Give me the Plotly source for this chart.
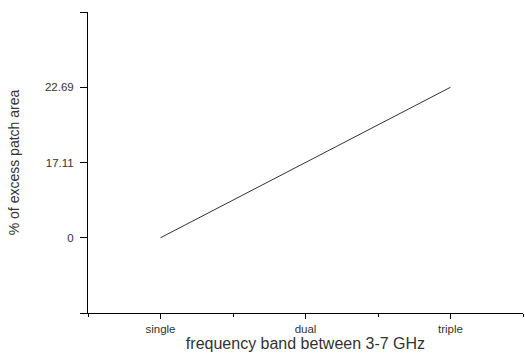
import plotly.graph_objects as go

categories = ["single", "dual", "triple"]
excess_area = [0, 17.11, 22.69]
y_tick_labels = ["0", "17.11", "22.69"]

x_pos = list(range(len(categories)))
y_cats = [" "] + y_tick_labels + ["  "]

fig = go.Figure()
fig.add_trace(go.Scatter(
    x=x_pos,
    y=[str(v) for v in excess_area],
    mode="lines",
    line=dict(color="#333333", width=1),
    showlegend=False,
))

fig.update_layout(
    width=525, height=356,
    margin=dict(l=88, r=2, t=12, b=43),
    paper_bgcolor="white", plot_bgcolor="white",
    font=dict(family="Liberation Sans, Arial, sans-serif", color="#333333"),
    xaxis=dict(
        range=[-0.5, 2.5],
        tickvals=x_pos, ticktext=categories,
        showgrid=False, zeroline=False,
        showline=True, linecolor="black", linewidth=1,
        ticks="outside", ticklen=5, tickcolor="black",
        minor=dict(tick0=-0.5, dtick=1, ticks="outside", ticklen=3, tickcolor="black", showgrid=False),
        tickfont=dict(size=11.5, color="#333333"),
        title=dict(text="frequency band between 3-7 GHz", font=dict(size=16, color="#333333"), standoff=4),
    ),
    yaxis=dict(
        type="category",
        categoryorder="array", categoryarray=y_cats,
        range=[0, len(y_cats) - 1],
        showgrid=False, zeroline=False,
        showline=True, linecolor="black", linewidth=1,
        ticks="outside", ticklen=7, tickcolor="black",
        ticklabelstandoff=4,
        tickfont=dict(size=11.5, color="#333333"),
        title=dict(text="% of excess patch area", font=dict(size=14, color="#333333"), standoff=22),
    ),
)

fig.write_html("out.html")
